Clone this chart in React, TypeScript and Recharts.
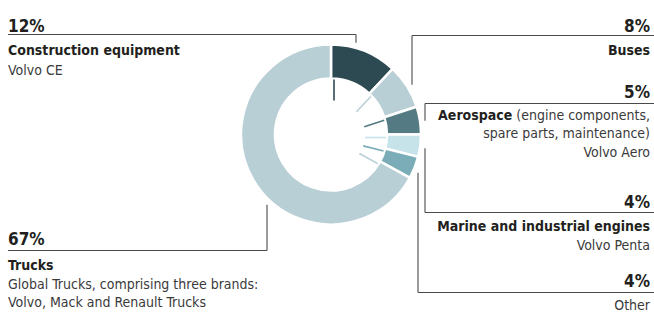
import React from 'react';
import { PieChart, Pie, Cell } from 'recharts';

// ---- data ----
const categories = ['Construction equipment', 'Buses', 'Aerospace', 'Marine and industrial engines', 'Other', 'Trucks'];
const shares = [12, 8, 5, 4, 4, 67];
const percentLabels = ['12%', '8%', '5%', '4%', '4%', '67%'];
const descriptions: { t: string; b?: boolean }[][][] = [
  [[{ t: 'Construction equipment', b: true }], [{ t: 'Volvo CE' }]],
  [[{ t: 'Buses', b: true }]],
  [[{ t: 'Aerospace', b: true }, { t: ' (engine components,' }], [{ t: 'spare parts, maintenance)' }], [{ t: 'Volvo Aero' }]],
  [[{ t: 'Marine and industrial engines', b: true }], [{ t: 'Volvo Penta' }]],
  [[{ t: 'Other' }]],
  [[{ t: 'Trucks', b: true }], [{ t: 'Global Trucks, comprising three brands:' }], [{ t: 'Volvo, Mack and Renault Trucks' }]],
];

// ---- styles / layout ----
const colors = ['#2d4a52', '#b8cfd6', '#547a83', '#c6e3ea', '#7badb8', '#b8cfd6'];
const W = 654;
const H = 314;
const CX = 331;
const CY = 134.5;
const LEADER_R = 95;
const FONT = '"DejaVu Sans Condensed", sans-serif';
const labelLayout = [
  { side: 'left', pctY: 32, lineY: 34.5, elbowX: 356, rows: [54.5, 75] },
  { side: 'right', pctY: 32, lineY: 35.5, elbowX: 412, rows: [55] },
  { side: 'right', pctY: 98, lineY: 103.5, elbowX: 425, rows: [120, 138, 157] },
  { side: 'right', pctY: 208, lineY: 212.5, elbowX: 425, rows: [231, 250] },
  { side: 'right', pctY: 287, lineY: 292.5, elbowX: 418, rows: [310] },
  { side: 'left', pctY: 245, lineY: 250.5, elbowX: 267, rows: [270, 289, 307] },
];

const data = categories.map((name, i) => ({ name, value: shares[i] }));

const renderLabel = (props: any) => {
  const { index, cx, cy, startAngle, innerRadius } = props;
  const lay = labelLayout[index];
  const fill = colors[index];
  const rad = (startAngle * Math.PI) / 180;
  const d = 3;
  const r1 = 34;
  const r2 = innerRadius - 1;
  const p = (r: number) => ({
    x: cx + r * Math.cos(rad) + d * Math.sin(rad),
    y: cy - r * Math.sin(rad) + d * Math.cos(rad),
  });
  const a = p(r1);
  const b = p(r2);
  const dx = lay.elbowX - cx;
  const dy = Math.sqrt(LEADER_R * LEADER_R - dx * dx);
  const endY = lay.lineY < cy ? cy - dy : cy + dy;
  const isLeft = lay.side === 'left';
  const tx = isLeft ? 8 : 650;
  const anchor = isLeft ? 'start' : 'end';
  const hx1 = isLeft ? 8 : lay.elbowX;
  const hx2 = isLeft ? lay.elbowX : W;
  return (
    <g key={`lab-${index}`}>
      <line x1={a.x} y1={a.y} x2={b.x} y2={b.y} stroke={fill} strokeWidth={1.6} />
      <polyline
        points={`${hx1},${lay.lineY} ${hx2},${lay.lineY}`}
        fill="none"
        stroke="#4a4a4a"
        strokeWidth={1.1}
      />
      <line x1={lay.elbowX} y1={lay.lineY} x2={lay.elbowX} y2={endY} stroke="#4a4a4a" strokeWidth={1.1} />
      <text x={tx} y={lay.pctY} textAnchor={anchor} fontFamily={FONT} fontSize={17} fontWeight={700} fill="#231f20">
        {percentLabels[index]}
      </text>
      {descriptions[index].map((row, ri) => (
        <text
          key={ri}
          x={tx}
          y={lay.rows[ri]}
          textAnchor={anchor}
          fontFamily={FONT}
          fontSize={14}
          style={{ whiteSpace: 'pre' }}
        >
          {row.map((seg, si) => (
            <tspan key={si} fontWeight={seg.b ? 700 : 400} fill={seg.b ? '#231f20' : '#3a3a3a'}>
              {seg.t}
            </tspan>
          ))}
        </text>
      ))}
    </g>
  );
};

export default function App() {
  return (
    <div style={{ position: 'absolute', left: 0, top: 0, width: W, height: H, background: '#fff' }}>
      <PieChart width={W} height={H} margin={{ top: 0, right: 0, bottom: 0, left: 0 }}>
        <Pie
          data={data}
          dataKey="value"
          nameKey="name"
          cx={CX}
          cy={CY}
          innerRadius={56}
          outerRadius={90}
          startAngle={90}
          endAngle={-270}
          stroke="#ffffff"
          strokeWidth={2.5}
          label={renderLabel}
          labelLine={false}
          isAnimationActive={false}
        >
          {data.map((e, i) => (
            <Cell key={e.name} fill={colors[i]} />
          ))}
        </Pie>
      </PieChart>
    </div>
  );
}
